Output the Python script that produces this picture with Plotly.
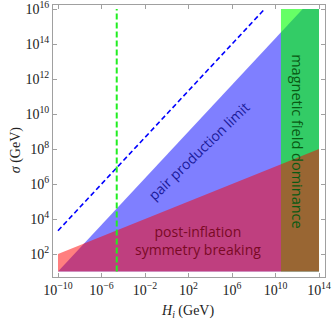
import plotly.graph_objects as go

# ---- data (GeV) ----
H_span = [1e-10, 1e14]                 # extent of the shaded regions in H_i
sigma_floor = 10.0                     # lower edge of the shaded regions
post_inflation_sigma = [1e2, 1e8]      # upper edge of the post-inflation region at H_span ends
pair_limit_H = [1e-10, 10**12.5]       # pair production limit edge
pair_limit_sigma = [1e1, 1e16]
magnetic_H = [10**10.5, 1e14]          # magnetic field dominance band
sigma_top = 1e16
dashed_pair_H = [1e-10, 1e9]
dashed_pair_sigma = [10**(10 - 20/3), 1e16]
dashed_H_value = 10**-4.6
dashed_H_sigma = [1e1, 1e16]

x_tickvals = [1e-10, 1e-6, 1e-2, 1e2, 1e6, 1e10, 1e14]
x_ticktext = ["10<sup>\u221210</sup>", "10<sup>\u22126</sup>", "10<sup>\u22122</sup>",
              "10<sup>2</sup>", "10<sup>6</sup>", "10<sup>10</sup>", "10<sup>14</sup>"]
y_tickvals = [1e2, 1e4, 1e6, 1e8, 1e10, 1e12, 1e14, 1e16]
y_ticktext = ["10<sup>2</sup>", "10<sup>4</sup>", "10<sup>6</sup>", "10<sup>8</sup>",
              "10<sup>10</sup>", "10<sup>12</sup>", "10<sup>14</sup>", "10<sup>16</sup>"]

fig = go.Figure()

# pair production region (blue)
fig.add_trace(go.Scatter(
    x=[pair_limit_H[0], pair_limit_H[1], H_span[1], H_span[1], pair_limit_H[0]],
    y=[pair_limit_sigma[0], pair_limit_sigma[1], sigma_top, sigma_floor, sigma_floor],
    fill="toself", fillcolor="rgba(0,0,255,0.5)", line=dict(width=0),
    mode="lines", hoverinfo="skip", showlegend=False))

# magnetic field dominance band (green)
fig.add_trace(go.Scatter(
    x=[magnetic_H[0], magnetic_H[1], magnetic_H[1], magnetic_H[0], magnetic_H[0]],
    y=[sigma_floor, sigma_floor, sigma_top, sigma_top, sigma_floor],
    fill="toself", fillcolor="rgba(0,255,0,0.6)", line=dict(width=0),
    mode="lines", hoverinfo="skip", showlegend=False))

# post-inflation symmetry breaking (red)
fig.add_trace(go.Scatter(
    x=[H_span[0], H_span[1], H_span[1], H_span[0], H_span[0]],
    y=[post_inflation_sigma[0], post_inflation_sigma[1], sigma_floor, sigma_floor, post_inflation_sigma[0]],
    fill="toself", fillcolor="rgba(255,0,0,0.5)", line=dict(width=0),
    mode="lines", hoverinfo="skip", showlegend=False))

# dashed blue line
fig.add_trace(go.Scatter(
    x=dashed_pair_H, y=dashed_pair_sigma, mode="lines",
    line=dict(color="#0000ff", width=1.6, dash="5px,3px"),
    hoverinfo="skip", showlegend=False))

# dashed green vertical line
fig.add_trace(go.Scatter(
    x=[dashed_H_value, dashed_H_value], y=dashed_H_sigma, mode="lines",
    line=dict(color="#22ee22", width=2, dash="6px,3px"),
    hoverinfo="skip", showlegend=False))

sans = "Open Sans"
fig.add_annotation(x=3.0, y=7.9, text="pair production limit", showarrow=False,
                   textangle=-44, font=dict(family=sans, size=14, color="#1a1a9a"))
fig.add_annotation(x=2.87, y=2.8, text="post-inflation<br>symmetry breaking", showarrow=False,
                   font=dict(family=sans, size=14, color="#7a0a25"))
fig.add_annotation(x=12.07, y=8.45, text="magnetic field dominance", showarrow=False,
                   textangle=90, font=dict(family=sans, size=14.5, color="#0a5a14"))

serif = "Liberation Serif"
fig.add_annotation(xref="paper", yref="paper", x=0.493, y=-0.125,
                   xanchor="center", yanchor="middle",
                   text="<i>H</i><sub><i>i</i></sub> (GeV)", showarrow=False,
                   font=dict(family=serif, size=14, color="#222"))
fig.add_annotation(xref="paper", yref="paper", x=-0.135, y=0.467,
                   xanchor="center", yanchor="middle",
                   text="<i>\u03c3</i> (GeV)", showarrow=False, textangle=-90,
                   font=dict(family=serif, size=14, color="#222"))

axis_common = dict(type="log", showgrid=False, zeroline=False, showline=True,
                   linecolor="#a0a0a0", linewidth=1, mirror="ticks", ticks="inside",
                   ticklen=4, tickcolor="#a0a0a0", automargin=False,
                   ticklabeloverflow="allow",
                   tickfont=dict(family=serif, size=14, color="#222"))

fig.update_xaxes(range=[-10.46, 14.55], tickvals=x_tickvals, ticktext=x_ticktext,
                 **axis_common)
fig.update_yaxes(range=[0.69, 16.23], tickvals=y_tickvals, ticktext=y_ticktext,
                 **axis_common)

fig.update_layout(width=332, height=323, margin=dict(l=53, r=7, t=5, b=46),
                  plot_bgcolor="white", paper_bgcolor="white")

fig.write_html("out.html", config={"displayModeBar": False},
               post_script="document.body.style.margin='0';document.body.style.overflow='hidden';")
